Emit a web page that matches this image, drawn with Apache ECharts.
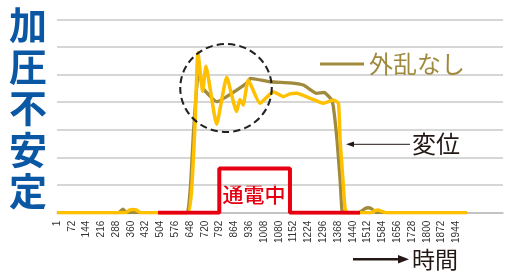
<!DOCTYPE html>
<html>
<head>
<meta charset="utf-8">
<script src="https://cdn.jsdelivr.net/npm/echarts@6/dist/echarts.min.js"></script>
<style>
  html, body { margin: 0; padding: 0; background: #fff; }
  #chart { width: 505px; height: 271px; }
</style>
</head>
<body>
<div id="chart"></div>
<script>
// tick labels along the time axis (one every 72 samples)
var xLabels = ['1','72','144','216','288','360','432','504','576','648','720','792','864','936',
  '1008','1080','1152','1224','1296','1368','1440','1512','1584','1656','1728','1800','1872','1944'];

// 変位 (yellow) : [sample, value]
var yellowData = [
  [0,0],[330,0],[355,0.1],[370,0.12],[385,0.1],[410,0],[636,0],[655,0.8],[672,3.2],[686,5.8],
  [709,4.4],[725,5.3],[777,3.2],[826,4.9],[874,3.66],[890,4.1],[906,3.9],[931,4.8],
  [988,3.96],[1053,4.38],[1102,4.2],[1134,4.3],[1167,4.32],[1232,4.14],[1296,3.96],
  [1345,4.08],[1370,3.96],[1378,2.63],[1392,1.18],[1402,0.17],[1412,0],
  [1530,0],[1550,0.08],[1563,0.1],[1578,0.06],[1600,0],[1995,0]
];

// 外乱なし (olive)
var oliveData = [
  [0,0],[300,0],[321,0.13],[340,0],[628,0],[648,0.8],[665,3.0],[690,5.2],[712,4.5],
  [778,4.02],[875,4.44],[931,4.74],[940,4.86],[1037,4.74],[1134,4.7],[1199,4.62],
  [1264,4.32],[1300,4.35],[1335,4.1],[1345,3.84],[1363,2.63],[1378,1.18],[1386,0.17],[1392,0],
  [1470,0],[1500,0.15],[1514,0.18],[1530,0.15],[1555,0],[1995,0]
];

// 通電中 (red)
var redData = [[492,0],[790,0],[790,1.6],[1134,1.6],[1134,0],[1475,0]];

var chart = echarts.init(document.getElementById('chart'));
var option = {
  animation: false,
  backgroundColor: '#fff',
  grid: { left: 57, right: 2, top: 19.3, bottom: 58.3 },
  legend: {
    data: ['外乱なし'],
    left: 315,
    top: 47,
    icon: 'rect',
    itemWidth: 44,
    itemHeight: 3,
    itemGap: 4,
    textStyle: { color: '#A08A3E', fontSize: 24, fontFamily: 'Noto Sans CJK JP' }
  },
  xAxis: {
    type: 'value',
    min: 0,
    max: 2171,
    interval: 72,
    axisLine: { show: true, lineStyle: { color: '#bdbdbd', width: 1.5 } },
    axisTick: { show: false },
    splitLine: { show: false },
    axisLabel: {
      rotate: 90,
      margin: 8,
      fontSize: 10,
      color: '#333',
      fontFamily: 'Liberation Sans',
      showMaxLabel: false,
      formatter: function (v) { return xLabels[Math.round(v / 72)] || ''; }
    }
  },
  yAxis: {
    type: 'value',
    min: 0,
    max: 7,
    interval: 1,
    axisLine: { show: false },
    axisTick: { show: false },
    axisLabel: { show: false },
    splitLine: { lineStyle: { color: '#c8c8c8', width: 1.5 } }
  },
  series: [
    {
      name: '外乱なし', type: 'line', data: oliveData, showSymbol: false, smooth: 0.15,
      lineStyle: { color: '#A08A3E', width: 3.3 }, itemStyle: { color: '#A08A3E' }, z: 2
    },
    {
      name: '変位', type: 'line', data: yellowData, showSymbol: false, smooth: 0.15,
      lineStyle: { color: '#FFC000', width: 3.5 }, itemStyle: { color: '#FFC000' }, z: 3
    },
    {
      name: '通電中', type: 'line', data: redData, showSymbol: false,
      lineStyle: { color: '#E60012', width: 4 }, itemStyle: { color: '#E60012' }, z: 4
    }
  ],
  graphic: [
    {
      type: 'text', left: 9, top: 4,
      style: { text: '加\n圧\n不\n安\n定', fill: '#0A57A4', font: 'bold 38px "Noto Sans CJK JP"', lineHeight: 41.5 }
    },
    {
      type: 'circle', shape: { cx: 226, cy: 88, r: 44 }, scaleX: 1.04, originX: 226, originY: 88,
      style: { fill: 'none', stroke: '#222', lineWidth: 2, lineDash: [7, 4] }, z: 10
    },
    {
      type: 'text', x: 254, y: 194,
      style: { text: '通電中', fill: '#E60012', font: '500 21px "Noto Sans CJK JP"', textAlign: 'center', textVerticalAlign: 'middle' }
    },
    {
      type: 'line', shape: { x1: 350, y1: 144.3, x2: 410, y2: 144.3 },
      style: { stroke: '#231815', lineWidth: 1 }
    },
    {
      type: 'polygon', shape: { points: [[346, 144.3], [354, 141.5], [354, 147.1]] },
      style: { fill: '#231815' }
    },
    {
      type: 'text', x: 412, y: 144,
      style: { text: '変位', fill: '#231815', font: '24px "Noto Sans CJK JP"', textVerticalAlign: 'middle' }
    },
    {
      type: 'line', shape: { x1: 353, y1: 259.3, x2: 400, y2: 259.3 },
      style: { stroke: '#231815', lineWidth: 2.5 }
    },
    {
      type: 'polygon', shape: { points: [[409, 259.3], [398, 255], [398, 263.6]] },
      style: { fill: '#231815' }
    },
    {
      type: 'text', x: 412, y: 259,
      style: { text: '時間', fill: '#231815', font: '23px "Noto Sans CJK JP"', textVerticalAlign: 'middle' }
    }
  ]
};
chart.setOption(option);
</script>
</body>
</html>
